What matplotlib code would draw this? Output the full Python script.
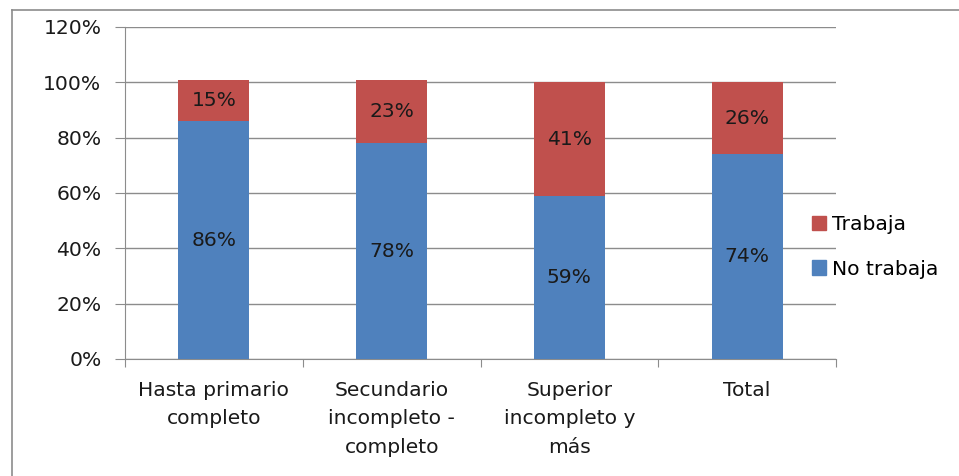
import matplotlib
matplotlib.use("Agg")
import matplotlib.pyplot as plt
from matplotlib.patches import Rectangle
from matplotlib.lines import Line2D

plt.rcParams['font.family'] = ['DejaVu Sans']

categories = ["Hasta primario\ncompleto", "Secundario\nincompleto -\ncompleto",
              "Superior\nincompleto y\nmás", "Total"]
no_trabaja = [86, 78, 59, 74]
trabaja = [15, 23, 41, 26]
yticks = [0, 20, 40, 60, 80, 100, 120]

blue = "#4f81bd"
red = "#c0504d"
grid_c = "#8c8c8c"
txt_c = "#1a1a1a"
fs = 14.6

fig = plt.figure(figsize=(9.59, 4.76), dpi=100)
W, H = 959, 476
ax = fig.add_axes([125 / W, 1 - 359 / H, (836 - 125) / W, (359 - 27) / H])

x = list(range(len(categories)))
bw = 0.40
ax.bar(x, no_trabaja, width=bw, color=blue, label="No trabaja", zorder=3)
ax.bar(x, trabaja, width=bw, bottom=no_trabaja, color=red, label="Trabaja", zorder=3)

for i in x:
    ax.text(i, no_trabaja[i] / 2, f"{no_trabaja[i]}%", ha="center", va="center",
            fontsize=fs, color=txt_c, zorder=4)
    ax.text(i, no_trabaja[i] + trabaja[i] / 2, f"{trabaja[i]}%", ha="center",
            va="center", fontsize=fs, color=txt_c, zorder=4)

ax.set_xlim(-0.5, len(categories) - 0.5)
ax.set_ylim(0, 120)
ax.set_yticks(yticks)
ax.set_yticklabels([f"{v}%" for v in yticks], fontsize=fs, color=txt_c)
ax.yaxis.grid(True, color=grid_c, linewidth=1.0, zorder=0)
ax.tick_params(axis="y", length=7, color=grid_c, pad=10)

# category labels between boundary tick marks
ax.set_xticks([i - 0.5 for i in range(len(categories) + 1)])
ax.set_xticklabels([])
ax.tick_params(axis="x", length=6, color=grid_c)
for i, c in enumerate(categories):
    ax.text(i, -7.8, c, ha="center", va="top", fontsize=fs, color=txt_c,
            linespacing=1.65)

for s in ["top", "right"]:
    ax.spines[s].set_visible(False)
ax.spines["left"].set_color(grid_c)
ax.spines["bottom"].set_color(grid_c)

handles = [Rectangle((0, 0), 1, 1, color=red), Rectangle((0, 0), 1, 1, color=blue)]
fig.legend(handles, ["Trabaja", "No trabaja"], loc="center left",
           bbox_to_anchor=(798 / W, 1 - 247 / H), frameon=False, fontsize=fs,
           handlelength=0.7, handleheight=0.7, handletextpad=0.3, labelspacing=1.25,
           borderpad=0.2)

# outer chart frame
fig.add_artist(Line2D([12 / W, 12 / W], [0, 1 - 10 / H], color=grid_c, lw=1.2,
                      transform=fig.transFigure))
fig.add_artist(Line2D([12 / W, 1], [1 - 10 / H, 1 - 10 / H], color=grid_c, lw=1.2,
                      transform=fig.transFigure))

fig.savefig("out.png", dpi=100)
